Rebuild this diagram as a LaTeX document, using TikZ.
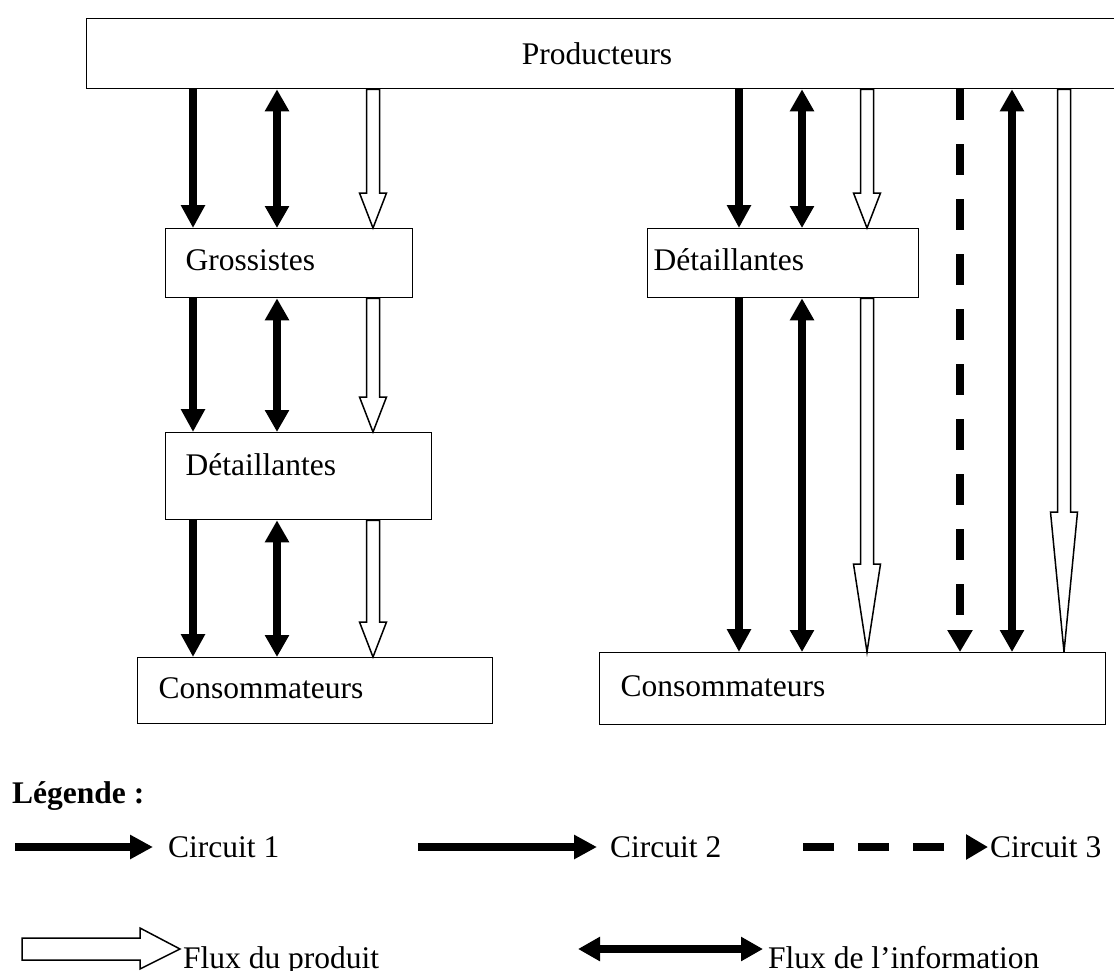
\documentclass[tikz,border=0pt]{standalone}
\usepackage{fontspec}
\setmainfont{Liberation Serif}
\usetikzlibrary{arrows.meta,calc}
\tikzset{
  box/.style={draw, line width=1.3pt, anchor=north west, align=left, inner ysep=0pt,
    text height=22pt, text depth=7pt},
  flow/.style={line width=8pt, -{Triangle[width=23pt,length=23pt]}},
  info/.style={line width=8pt, {Triangle[width=23pt,length=22pt]}-{Triangle[width=23pt,length=22pt]}},
  dashflow/.style={line width=8pt, dash pattern=on 31pt off 24pt, -{Triangle[width=24pt,length=22pt]}},
  hollow/.style={draw, fill=white, line width=1.5pt, line join=miter},
  txt/.style={inner sep=0pt, anchor=base west}
}
\newcommand\hollowv[4]{%
  \draw[hollow] let \p1=(#2), \p2=(#3) in
    ({#1pt-6.5pt},\y1) -- ({#1pt-6.5pt},{\y2+#4pt}) -- ({#1pt-13.5pt},{\y2+#4pt})
    -- ({#1pt},\y2) -- ({#1pt+13.5pt},{\y2+#4pt}) -- ({#1pt+6.5pt},{\y2+#4pt})
    -- ({#1pt+6.5pt},\y1) -- cycle;}
\begin{document}
\begin{tikzpicture}[x=1pt,y=-1pt,font=\fontsize{31.5}{38}\selectfont]
\clip (0,0) rectangle (1114,970);
\fill[white] (0,0) rectangle (1114,970);
% boxes
\node[box, minimum width=1060pt, minimum height=70pt] (prod) at (86,18) {};
\node[inner sep=0pt] (prodtext) at (597,0 |- prod.center) {Producteurs};
\node[box, minimum height=69pt, inner xsep=20pt, text width=207pt] (gros) at (165,228) {Grossistes};
\node[box, minimum height=87pt, inner xsep=20pt, text width=226pt, text depth=23pt] (detl) at (165,432) {Détaillantes};
\node[box, minimum height=66pt, inner xsep=21pt, text width=313pt] (consl) at (137,657) {Consommateurs};
\node[box, minimum height=69pt, inner xsep=6pt, text width=259pt] (detr) at (647,228) {Détaillantes};
\node[box, minimum height=72pt, inner xsep=21pt, text width=464pt] (consr) at (599,652) {Consommateurs};
% left column
\draw[flow] (193,0 |- prod.south) -- (193,0 |- gros.north);
\draw[info] (277,0 |- prod.south) -- (277,0 |- gros.north);
\hollowv{373}{prod.south}{gros.north}{35}
\draw[flow] (193,0 |- gros.south) -- (193,0 |- detl.north);
\draw[info] (277,0 |- gros.south) -- (277,0 |- detl.north);
\hollowv{373}{gros.south}{detl.north}{35}
\draw[flow] (193,0 |- detl.south) -- (193,0 |- consl.north);
\draw[info] (277,0 |- detl.south) -- (277,0 |- consl.north);
\hollowv{373}{detl.south}{consl.north}{35}
% right column
\draw[flow] (739,0 |- prod.south) -- (739,0 |- detr.north);
\draw[info] (802,0 |- prod.south) -- (802,0 |- detr.north);
\hollowv{867}{prod.south}{detr.north}{35}
\draw[flow] (739,0 |- detr.south) -- (739,0 |- consr.north);
\draw[info] (802,0 |- detr.south) -- (802,0 |- consr.north);
\hollowv{867}{detr.south}{consr.north}{88}
\draw[dashflow] (960,0 |- prod.south) -- (960,0 |- consr.north);
\draw[info] (1012,0 |- prod.south) -- (1012,0 |- consr.north);
\hollowv{1064}{prod.south}{consr.north}{140}
% legend
\node[txt, font=\fontsize{31.5}{38}\selectfont\bfseries] (leg) at (12,803) {Légende :};
\node[txt] (c1) at (168,857) {Circuit 1};
\node[txt] (c2) at (610,857) {Circuit 2};
\node[txt] (c3) at (990,857) {Circuit 3};
\node[txt] (fp) at (183,968) {Flux du produit};
\node[txt] (fi) at (768,968) {Flux de l’information};
\coordinate (a1s) at (15,847);  \coordinate (a1e) at (153,847);
\coordinate (a2s) at (418,847); \coordinate (a2e) at (597,847);
\coordinate (a3s) at (803,847); \coordinate (a3e) at (988,847);
\coordinate (a5s) at (578,949); \coordinate (a5e) at (763,949);
\draw[flow] (a1s) -- (a1e);
\draw[flow] (a2s) -- (a2e);
\draw[dashflow] (a3s) -- (a3e);
\draw[info] (a5s) -- (a5e);
\draw[hollow] (22,938) -- (140,938) -- (140,928) -- (180,949) -- (140,969) -- (140,960) -- (22,960) -- cycle;
\end{tikzpicture}
\end{document}
